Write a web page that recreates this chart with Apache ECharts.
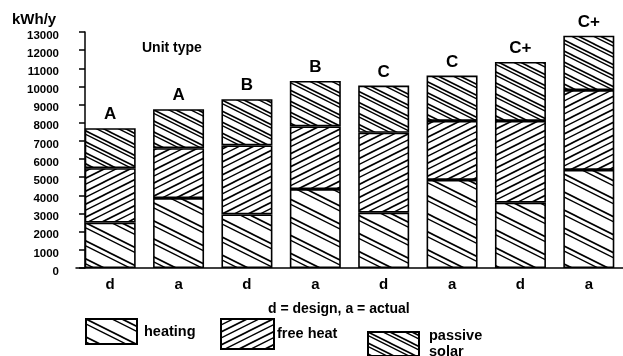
<!DOCTYPE html>
<html>
<head>
<meta charset="utf-8">
<script src="https://cdn.jsdelivr.net/npm/echarts@6/dist/echarts.min.js"></script>
<style>
  html, body { margin: 0; padding: 0; background: #fff; }
  #chart { width: 623px; height: 356px; }
</style>
</head>
<body>
<div id="chart"></div>
<script>
// Annual energy per dwelling, design (d) vs actual (a), by unit type
const xLabels = ['d', 'a', 'd', 'a', 'd', 'a', 'd', 'a'];
const unitTypes = ['A', 'A', 'B', 'B', 'C', 'C', 'C+', 'C+'];
const heating = [2500, 3850, 2950, 4350, 3050, 4850, 3600, 5400];
const freeHeat = [3000, 2750, 3800, 3450, 4400, 3250, 4500, 4400];
const passiveSolar = [2200, 2150, 2550, 2500, 2600, 2500, 3250, 3000];
const yTicks = [0, 13000, 1000]; // min, max, step

const FONT = '"Liberation Sans", Arial, sans-serif';

// Hatch tile: lines of slope dir*h/w, repeated every h pixels vertically.
function hatch(w, h, dir, lines) {
  const c = document.createElement('canvas');
  c.width = w; c.height = h;
  const ctx = c.getContext('2d');
  ctx.fillStyle = '#fff';
  ctx.fillRect(0, 0, w, h);
  ctx.strokeStyle = '#000';
  ctx.lineCap = 'butt';
  lines.forEach(([off, lw]) => {
    ctx.lineWidth = lw;
    for (let k = -2; k <= 2; k++) {
      const y0 = off + k * h;
      ctx.beginPath();
      ctx.moveTo(-1, y0 - dir * h / w);
      ctx.lineTo(w + 1, y0 + dir * h + dir * h / w);
      ctx.stroke();
    }
  });
  return { image: c, repeat: 'repeat' };
}

const heatingFill = hatch(36, 18, 1, [[0, 1.7], [5, 1.4]]);
const freeHeatFill = hatch(26, 13, -1, [[0, 1.7], [6, 1.4]]);
const passiveFill = hatch(22, 11, 1, [[0, 1.6], [3.5, 1.4]]);

const edge = { borderColor: '#000', borderWidth: 1.6 };
const txt = (size, extra) => Object.assign(
  { fontSize: size, fontWeight: 'bold', color: '#000', fontFamily: FONT }, extra || {});

const chart = echarts.init(document.getElementById('chart'), null, { renderer: 'canvas' });

chart.setOption({
  animation: false,
  backgroundColor: '#fff',
  textStyle: { fontFamily: FONT, color: '#000' },
  title: [
    { text: 'kWh/y', left: 12, top: 12, padding: 0, textStyle: txt(15) },
    { text: 'Unit type', left: 142, top: 41, padding: 0, textStyle: txt(14) },
    { text: 'd = design, a = actual', left: 268, top: 302, padding: 0, textStyle: txt(14) }
  ],
  legend: [
    { data: ['heating'], left: 85, top: 318, itemWidth: 51, itemHeight: 25, padding: 0,
      icon: 'rect', textStyle: txt(14.5, { padding: [0, 0, 0, 2] }) },
    { data: ['free heat'], left: 220, top: 318, itemWidth: 53, itemHeight: 30, padding: 0,
      icon: 'rect', textStyle: txt(14.5, { padding: [0, 0, 0, -2] }) },
    { data: ['passive solar'], left: 367, top: 328, itemWidth: 51, itemHeight: 24, padding: 0,
      icon: 'rect', formatter: () => 'passive\nsolar',
      textStyle: txt(14.5, { lineHeight: 16, padding: [0, 0, 0, 5] }) }
  ],
  grid: { left: 76, top: 32, width: 568, bottom: 88, containLabel: false },
  xAxis: {
    type: 'category',
    data: xLabels,
    axisLine: { lineStyle: { color: '#000', width: 1.5 } },
    axisTick: { show: false },
    axisLabel: txt(15, { margin: 9 })
  },
  yAxis: {
    type: 'value',
    min: yTicks[0], max: yTicks[1], interval: yTicks[2],
    offset: -9,
    axisLine: { show: true, lineStyle: { color: '#000', width: 1.5 } },
    axisTick: { show: true, length: 6, lineStyle: { color: '#000', width: 1.5 } },
    splitLine: { show: false },
    axisLabel: txt(11.5, { margin: 26, formatter: v => String(v),
      verticalAlign: 'top', lineHeight: 7 })
  },
  series: [
    { name: 'heating', type: 'bar', stack: 'e', barWidth: 51, data: heating,
      itemStyle: Object.assign({ color: heatingFill }, edge) },
    { name: 'free heat', type: 'bar', stack: 'e', barWidth: 51, data: freeHeat,
      itemStyle: Object.assign({ color: freeHeatFill }, edge) },
    { name: 'passive solar', type: 'bar', stack: 'e', barWidth: 51, data: passiveSolar,
      itemStyle: Object.assign({ color: passiveFill }, edge),
      label: Object.assign({ show: true, position: 'top', distance: 5,
        formatter: p => unitTypes[p.dataIndex] }, txt(17)) }
  ]
});
</script>
</body>
</html>
